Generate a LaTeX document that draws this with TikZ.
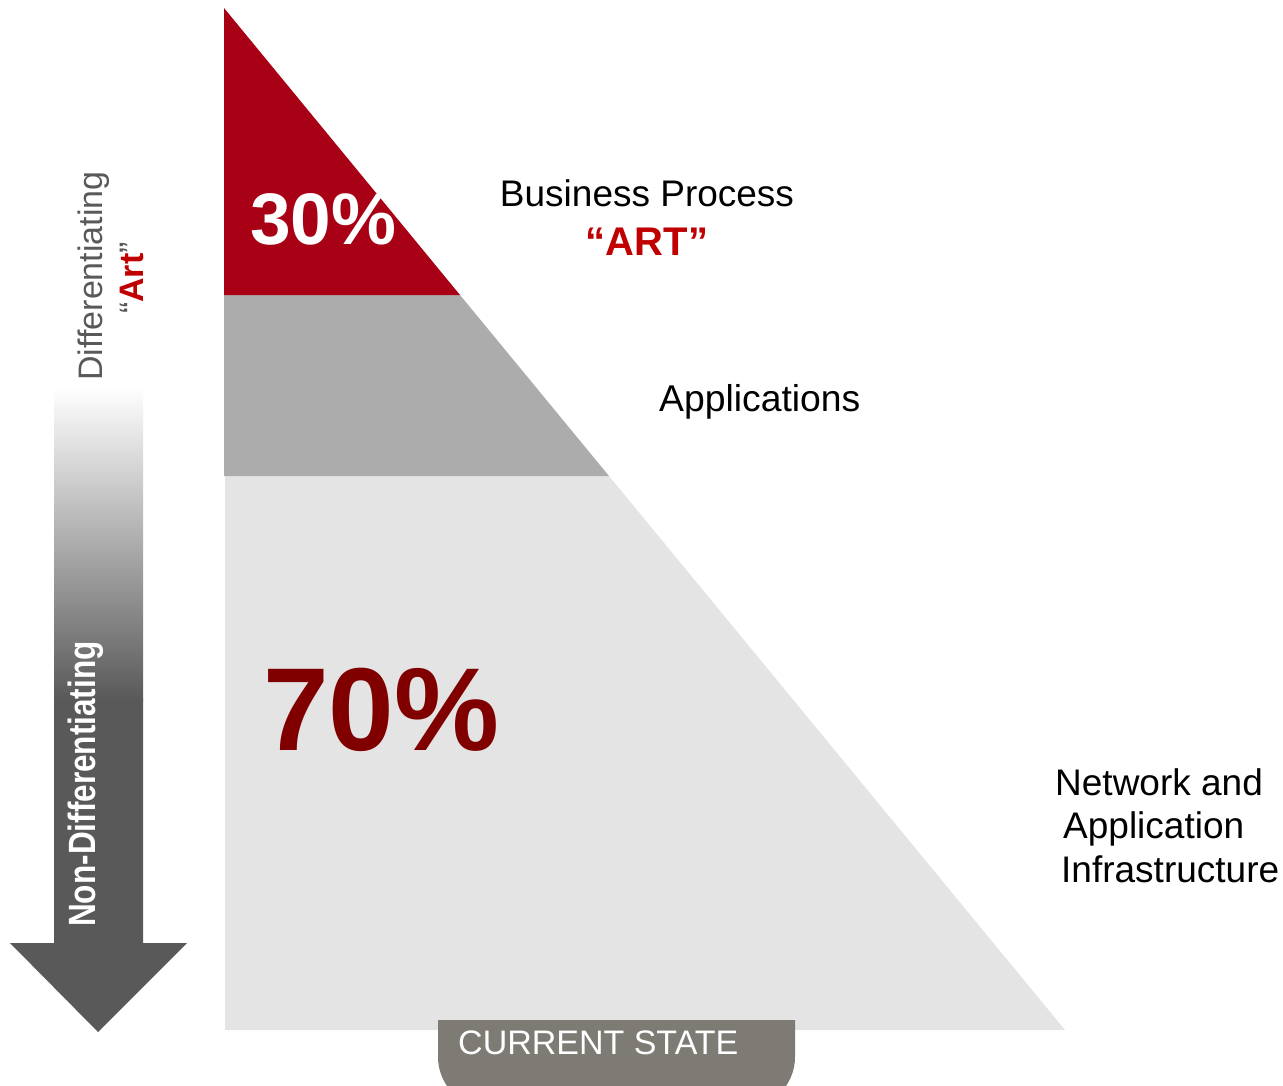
\documentclass[tikz,border=0pt]{standalone}
\usepackage{fontspec}
\setmainfont{Liberation Sans}
\usepackage{tikz}
\definecolor{artRed}{RGB}{168,0,20}
\definecolor{appGray}{RGB}{173,172,173}
\definecolor{infraGray}{RGB}{228,228,228}
\definecolor{darkRed}{RGB}{128,0,0}
\definecolor{quoteRed}{RGB}{192,0,0}
\definecolor{arrowGray}{RGB}{89,89,89}
\definecolor{tabGray}{RGB}{125,123,116}
\newcommand{\sz}[1]{\fontsize{#1}{1.2\dimexpr#1pt\relax}\selectfont}

\begin{document}
\begin{tikzpicture}[x=1pt,y=-1pt,
    lbl/.style={inner sep=0pt,anchor=base west}]
  \useasboundingbox (0,0) rectangle (1283,1086);
  \clip (0,0) rectangle (1283,1086);

  % the three layers
  \fill[infraGray] (225,476) -- (609,476) -- (1065,1030) -- (225,1030) -- cycle;
  \fill[appGray] (224,295) -- (460,295) -- (609,476) -- (224,476) -- cycle;
  \fill[artRed] (224,8) -- (460,295) -- (224,295) -- cycle;

  % arrow on the left
  \shade[top color=white,bottom color=arrowGray] (54,387) rectangle (143,700);
  \fill[arrowGray] (54,699) -- (143,699) -- (143,943) -- (187,943) -- (98,1032)
    -- (10,943) -- (54,943) -- cycle;

  % tab at the bottom
  \begin{scope}
    \clip (438,1020) rectangle (795,1086);
    \fill[tabGray,rounded corners=51] (438,940) rectangle (795,1108);
  \end{scope}
  \node[lbl,text=white] (state) at (458,1054) {\sz{34}CURRENT STATE};

  \node[lbl,text=white] (pctArt) at (250,245) {\sz{73}\bfseries 30\%};
  \node[lbl,text=darkRed] (pctInfra) at (263,750) {\sz{118}\bfseries 70\%};

  \node[inner sep=0pt,anchor=base] (busProc) at (647,207) {\sz{37}Business Process};
  \node[inner sep=0pt,anchor=base,text=quoteRed] (art) at (647,256) {\sz{40}\bfseries “ART”};
  \node[lbl] (apps) at (659,411) {\sz{37.3}Applications};
  \node[lbl] (net) at (1055,795) {\sz{37}Network and};
  \node[lbl] (netApp) at (1063,838) {\sz{37}Application};
  \node[lbl] (infra) at (1061,882) {\sz{37}Infrastructure};

  \node[inner sep=0pt,anchor=base,rotate=90,text=arrowGray] (diff) at (102,276)
    {\sz{34}Differentiating};
  \node[inner sep=0pt,anchor=base,rotate=90,text=arrowGray] (diffArt) at (143,278)
    {\sz{34}“\textbf{\color{quoteRed}Art}”};
  \node[inner sep=0pt,anchor=base,rotate=90,text=white] (nonDiff) at (95,784)
    {\scalebox{0.83}[1]{\sz{38}\bfseries Non-Differentiating}};
\end{tikzpicture}
\end{document}
